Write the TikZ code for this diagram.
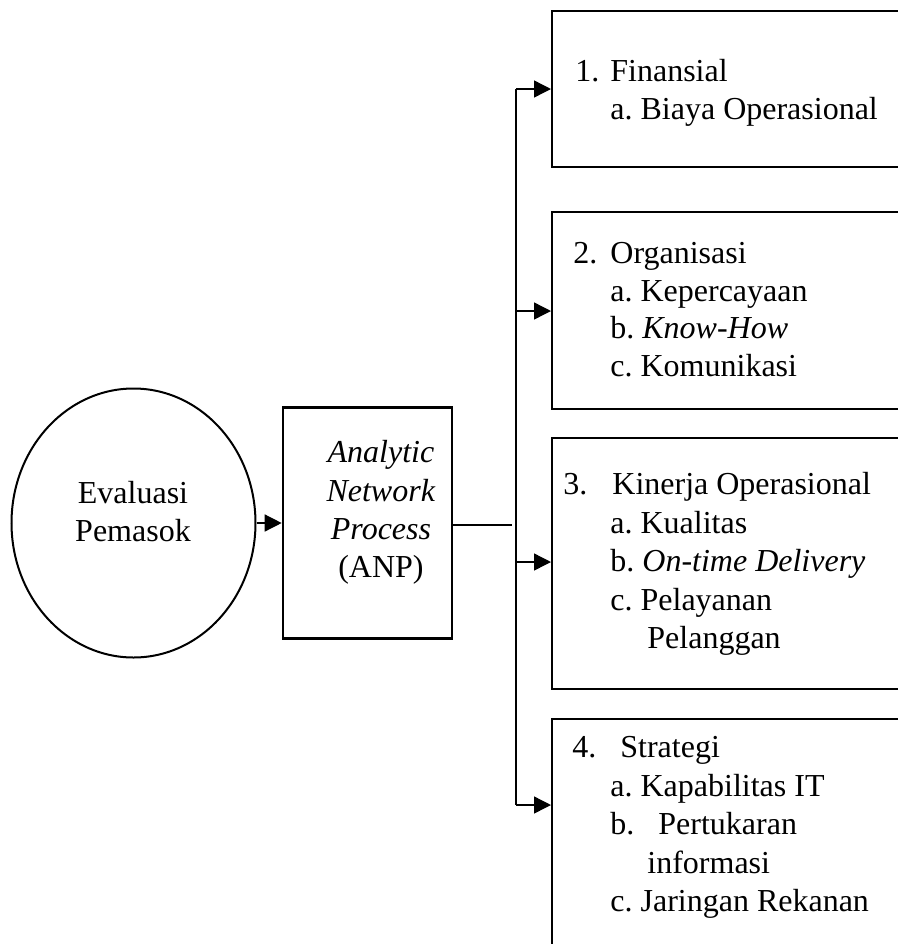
\documentclass[tikz,border=0pt]{standalone}
\usepackage{fontspec}
\setmainfont{Liberation Serif}
\usetikzlibrary{shapes.geometric,arrows.meta}
\frenchspacing
\begin{document}
\begin{tikzpicture}[x=0.5pt,y=-0.5pt,
  box/.style={draw, line width=1.2pt, rectangle, anchor=north west, inner sep=0, minimum width=185pt},
  txt/.style={anchor=base west, inner sep=0, font=\fontsize{16}{19}\selectfont},
  ctxt/.style={anchor=base, inner sep=0, font=\fontsize{16}{19}\selectfont},
  conn/.style={line width=0.7pt},
  arr/.style={conn, -{Triangle[length=8.5pt,width=8.5pt]}}]
\clip (0,0) rectangle (898,944);
\fill[white] (0,0) rectangle (898,944);

% left circle and ANP box
\node[ellipse, draw, line width=1pt, minimum width=122pt, minimum height=134.5pt, inner sep=0] (ev) at (133.5,523) {};
\node[ctxt] (ev1) at (133,503) {Evaluasi};
\node[ctxt] (ev2) at (133,541) {Pemasok};

\node[box, anchor=center, line width=1.3pt, minimum width=84.5pt, minimum height=115.5pt] (anp) at (367.5,523) {};
\node[ctxt] (an1) at (381,462) {\textit{Analytic}};
\node[ctxt] (an2) at (381,501) {\textit{Network}};
\node[ctxt] (an3) at (381,539) {\textit{Process}};
\node[ctxt] (an4) at (381,577) {(ANP)};

% right boxes
\node[box, minimum height=78pt] (b1) at (551,10) {};
\node[box, minimum height=98.5pt] (b2) at (551,211) {};
\node[box, minimum height=125.5pt] (b3) at (551,437) {};
\node[box, minimum height=121pt] (b4) at (551,718) {};

% box 1 text
\node[txt] (n1) at (575,81) {1.};
\node[txt] (h1) at (610,81) {Finansial};
\node[txt] (s1a) at (610,119) {a. Biaya Operasional};

% box 2 text
\node[txt] (n2) at (573,263) {2.};
\node[txt] (h2) at (610,263) {Organisasi};
\node[txt] (s2a) at (610,301) {a. Kepercayaan};
\node[txt] (s2b) at (610,338) {b. \textit{Know-How}};
\node[txt] (s2c) at (610,376) {c. Komunikasi};

% box 3 text
\node[txt] (n3) at (563,494) {3.};
\node[txt] (h3) at (612,494) {Kinerja Operasional};
\node[txt] (s3a) at (610,533) {a. Kualitas};
\node[txt] (s3b) at (610,571) {b. \textit{On-time Delivery}};
\node[txt] (s3c) at (610,610) {c. Pelayanan};
\node[txt] (s3d) at (647,648) {Pelanggan};

% box 4 text
\node[txt] (n4) at (572,757) {4.};
\node[txt] (h4) at (620,757) {Strategi};
\node[txt] (s4a) at (610,796) {a. Kapabilitas IT};
\node[txt] (s4b) at (610,834) {b.};
\node[txt] (s4bt) at (658,834) {Pertukaran};
\node[txt] (s4bu) at (647,873) {informasi};
\node[txt] (s4c) at (610,911) {c. Jaringan Rekanan};

% connectors
\draw[arr] (ev.east) -- (anp.west);
\coordinate (jn) at (512,525);
\draw[conn] (anp.east |- jn) -- (jn);
\coordinate (vt) at (516,89);
\coordinate (v2) at (516,311);
\coordinate (v3) at (516,562);
\coordinate (vb) at (516,805);
\draw[conn] (vt) -- (vb);
\draw[arr] (vt) -- (b1.west |- vt);
\draw[arr] (v2) -- (b2.west |- v2);
\draw[arr] (v3) -- (b3.west |- v3);
\draw[arr] (vb) -- (b4.west |- vb);
\end{tikzpicture}
\end{document}
